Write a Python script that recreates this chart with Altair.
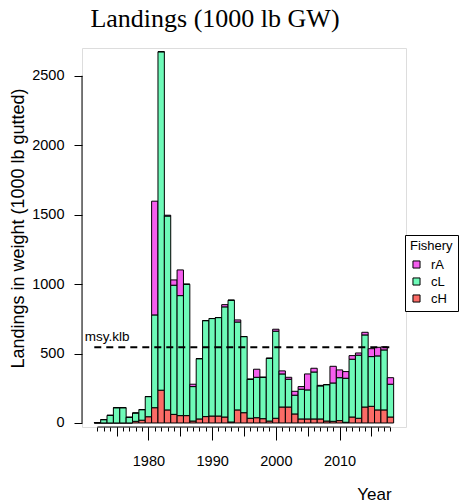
import altair as alt
import pandas as pd

years = list(range(1972, 2019))
cH = [0, 0, 0, 0, 0, 0, 12, 20, 45, 110,
      236, 94, 62, 53, 53, 14, 29, 46, 50, 50,
      43, 7, 94, 74, 34, 38, 31, 14, 34, 115,
      115, 65, 29, 29, 29, 29, 14, 12, 17, 5,
      43, 34, 115, 120, 94, 94, 43]
cL = [3, 24, 55, 110, 110, 41, 60, 76, 145, 668,
      2437, 1396, 930, 864, 946, 248, 434, 691, 702, 709,
      793, 877, 633, 548, 281, 291, 298, 452, 627, 238,
      200, 135, 214, 209, 338, 238, 262, 276, 309, 317,
      416, 454, 519, 358, 389, 432, 236]
rA = [0, 0, 0, 0, 0, 0, 0, 0, 0, 819,
      0, 6, 38, 185, 0, 17, 0, 0, 0, 0,
      16, 0, 15, 0, 0, 58, 0, 0, 14, 22,
      14, 28, 19, 115, 27, 4, 0, 120, 56, 48,
      26, 16, 19, 57, 62, 22, 47]
msy_klb = 545

fisheries = ["rA", "cL", "cH"]
colors = ["#F55EEE", "#6EFAB8", "#FB6B66"]
y_ticks = [0, 500, 1000, 1500, 2000, 2500]
mid_ticks = [1975, 1985, 1995, 2005, 2015]
major_ticks = [1980, 1990, 2000, 2010]

rows = []
for i, yr in enumerate(years):
    for order, (name, vals) in enumerate([("cH", cH), ("cL", cL), ("rA", rA)]):
        rows.append({"year": yr, "fishery": name, "value": vals[i], "order": order})
df = pd.DataFrame(rows)

W, H = 324, 379
FONT = "Liberation Sans"
xscale = alt.Scale(domain=[1969.57, 2020.44], nice=False, zero=False)
yscale = alt.Scale(domain=[-29, 2700], nice=False, zero=False)

minor_axis = alt.Axis(orient="bottom", values=years, tickSize=4, labels=False,
                      domain=False, grid=False, title=None, tickColor="black")
mid_axis = alt.Axis(orient="bottom", values=mid_ticks, tickSize=9, labels=False,
                    domain=False, grid=False, title=None, tickColor="black")
major_axis = alt.Axis(orient="bottom", values=major_ticks, tickSize=13, labelPadding=14,
                      labelBaseline="top", format="d", labelFont=FONT, labelFontSize=14.5,
                      labelColor="black", labelOverlap=False, labelFlush=False,
                      domain=False, grid=False, tickColor="black",
                      title="Year", titleFont=FONT, titleFontSize=17, titleFontWeight="normal",
                      titleColor="black", titleX=292, titleY=67, titleAlign="center",
                      titleBaseline="middle")
y_axis = alt.Axis(orient="left", values=y_ticks, tickSize=8, labelPadding=10, format="d",
                  labelFont=FONT, labelFontSize=14.5, labelColor="black",
                  domain=False, grid=False, tickColor="black",
                  title="Landings in weight (1000 lb gutted)", titleFont=FONT,
                  titleFontSize=18, titleFontWeight="normal", titleColor="black",
                  titleAngle=270, titleX=-64, titleY=180, titleAlign="center",
                  titleBaseline="middle")

legend = alt.Legend(orient="none", legendX=323, legendY=187, title="Fishery",
                    titleFont=FONT, titleFontSize=13, titleFontWeight="normal",
                    titleColor="black", labelFont=FONT, labelFontSize=13,
                    labelColor="black", symbolType="square", symbolSize=50,
                    symbolStrokeColor="black", symbolStrokeWidth=1,
                    strokeColor="black", fillColor="white", padding=5,
                    rowPadding=3, titlePadding=5, labelOffset=8)

bars = alt.Chart(df).transform_stack(
    stack="value", groupby=["year"], as_=["v0", "v1"], sort=[alt.SortField("order")]
).transform_calculate(
    x0="datum.year - 0.5", x1="datum.year + 0.5"
).mark_bar(stroke="black", strokeWidth=1).encode(
    x=alt.X("x0:Q", scale=xscale, axis=minor_axis),
    x2="x1:Q",
    y=alt.Y("v0:Q", scale=yscale, axis=y_axis),
    y2="v1:Q",
    color=alt.Color("fishery:N", scale=alt.Scale(domain=fisheries, range=colors),
                    legend=legend),
)

msy_line = alt.Chart().mark_rule(color="black", strokeWidth=2, strokeDash=[7, 5]).encode(
    x=alt.X(datum=years[0] - 0.5, scale=xscale, axis=mid_axis),
    x2=alt.X2(datum=years[-1] + 0.5),
    y=alt.Y(datum=msy_klb, scale=yscale, axis=None),
)

x_domain = alt.Chart().mark_rule(color="black", strokeWidth=1).encode(
    x=alt.X(datum=years[0], scale=xscale, axis=major_axis),
    x2=alt.X2(datum=years[-1]),
    y=alt.value(H),
)

y_domain = alt.Chart().mark_rule(color="black", strokeWidth=1).encode(
    x=alt.value(0),
    y=alt.Y(datum=y_ticks[0], scale=yscale, axis=None),
    y2=alt.Y2(datum=y_ticks[-1]),
)

msy_text = alt.Chart().mark_text(align="left", baseline="bottom", dy=-3, font=FONT,
                                 fontSize=13.5, color="black").encode(
    x=alt.X(datum=1970, scale=xscale, axis=None),
    y=alt.Y(datum=msy_klb, scale=yscale, axis=None),
    text=alt.value("msy.klb"),
)

chart = alt.layer(bars, msy_line, x_domain, y_domain, msy_text).resolve_axis(
    x="independent", y="independent"
).properties(
    width=W, height=H,
    title=alt.Title("Landings (1000 lb GW)", font="Liberation Serif", fontSize=26,
                    fontWeight="normal", color="black", anchor="middle", dx=-29,
                    baseline="alphabetic", offset=6, dy=11),
    autosize=alt.AutoSizeParams(type="none"),
    padding={"left": 82, "top": 48, "right": 53, "bottom": 76},
).configure_view(stroke=None).configure(background="white")

chart.save("out.html", embed_options={"renderer": "svg", "actions": False})
